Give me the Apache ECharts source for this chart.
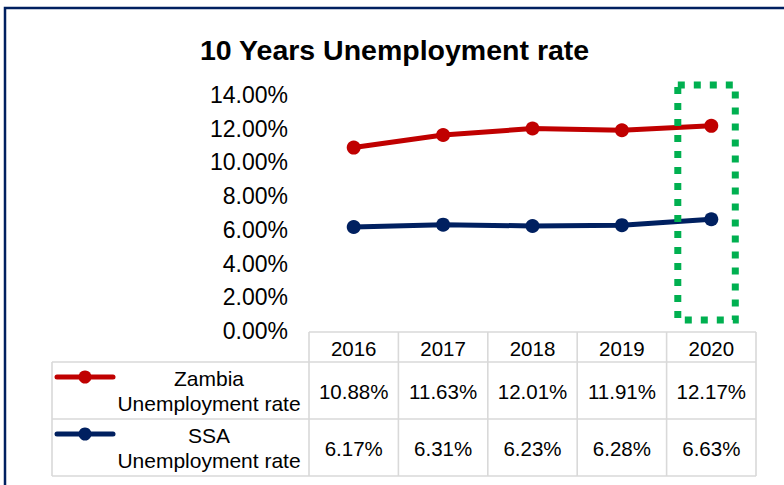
<!DOCTYPE html>
<html>
<head>
<meta charset="utf-8">
<script src="https://cdn.jsdelivr.net/npm/echarts@6/dist/echarts.min.js"></script>
<style>
  html, body { margin: 0; padding: 0; background: #fff; }
  #chart { width: 784px; height: 485px; }
</style>
</head>
<body>
<div id="chart"></div>
<script>
// Unemployment rates (%) by year
const years = ['2016', '2017', '2018', '2019', '2020'];
const zambiaRate = [10.88, 11.63, 12.01, 11.91, 12.17];
const ssaRate = [6.17, 6.31, 6.23, 6.28, 6.63];
const seriesNames = ['Zambia\nUnemployment rate', 'SSA\nUnemployment rate'];
const highlightYear = '2020';

const FONT = '"Liberation Sans", Arial, sans-serif';
const RED = '#C00000';
const NAVY = '#002060';
const CELL = '#D9D9D9';
const GREEN = '#00B050';

const pct = v => v.toFixed(2) + '%';

const chart = echarts.init(document.getElementById('chart'), null, { renderer: 'svg' });

chart.setOption({
  animation: false,
  backgroundColor: '#fff',
  title: {
    text: '10 Years Unemployment rate',
    left: 195,
    top: 30,
    textStyle: { fontFamily: FONT, fontSize: 28.5, fontWeight: 'bold', color: '#000' }
  },
  grid: { left: 309, right: 28, top: 95, bottom: 154 },
  xAxis: {
    type: 'category',
    data: years,
    boundaryGap: true,
    axisLine: { show: false },
    axisTick: { show: false },
    axisLabel: { show: false }
  },
  yAxis: {
    type: 'value',
    min: 0,
    max: 14,
    interval: 2,
    splitLine: { show: false },
    axisLine: { show: false },
    axisTick: { show: false },
    axisLabel: {
      margin: 21,
      fontSize: 23,
      fontFamily: FONT,
      color: '#000',
      formatter: v => pct(v)
    }
  },
  series: [
    {
      name: seriesNames[0],
      type: 'line',
      data: zambiaRate,
      symbol: 'circle',
      symbolSize: 14,
      itemStyle: { color: RED },
      lineStyle: { color: RED, width: 5 },
      z: 3
    },
    {
      name: seriesNames[1],
      type: 'line',
      data: ssaRate,
      symbol: 'circle',
      symbolSize: 14,
      itemStyle: { color: NAVY },
      lineStyle: { color: NAVY, width: 5 },
      z: 3
    }
  ]
});

// Data table under the plot, laid out from the category axis positions
function buildTable() {
  const xs = years.map(y => chart.convertToPixel({ xAxisIndex: 0 }, y));
  const band = xs[1] - xs[0];
  const y0 = chart.convertToPixel({ yAxisIndex: 0 }, 0) + 1;
  const colLeft = xs[0] - band / 2;
  const colRight = xs[xs.length - 1] + band / 2;
  const legendLeft = 52;
  const headerH = 30;
  const rowH = 57;
  const rowTops = [y0 + headerH, y0 + headerH + rowH];
  const bottom = y0 + headerH + 2 * rowH;

  const g = [];
  const line = (x1, y1, x2, y2) => g.push({
    type: 'line', silent: true, z: 10,
    shape: { x1, y1, x2, y2 },
    style: { stroke: CELL, lineWidth: 1.6 }
  });
  const text = (x, y, t, size, align) => g.push({
    type: 'text', silent: true, z: 11,
    x, y,
    style: {
      text: t, fill: '#000', font: size + 'px ' + FONT,
      align: align || 'center', verticalAlign: 'middle', lineHeight: 25
    }
  });

  // outer frame of the chart area
  g.push({
    type: 'rect', silent: true, z: 20,
    shape: { x: 5, y: 8, width: 900, height: 600 },
    style: { fill: 'none', stroke: NAVY, lineWidth: 2.5 }
  });

  // grid lines of the table
  line(colLeft, y0, colRight, y0);
  line(legendLeft, rowTops[0], colRight, rowTops[0]);
  line(legendLeft, rowTops[1], colRight, rowTops[1]);
  line(legendLeft, bottom, colRight, bottom);
  line(legendLeft, rowTops[0], legendLeft, bottom);
  for (let i = 0; i <= xs.length; i++) {
    const x = colLeft + i * band;
    line(x, y0, x, bottom);
  }

  // header: years
  years.forEach((y, i) => text(xs[i], y0 + headerH / 2 + 1, y, 20.5));

  // rows: legend key + values
  const rows = [
    { name: seriesNames[0], values: zambiaRate, color: RED },
    { name: seriesNames[1], values: ssaRate, color: NAVY }
  ];
  rows.forEach((r, k) => {
    const top = rowTops[k];
    const keyY = top + 15;
    g.push({
      type: 'line', silent: true, z: 11,
      shape: { x1: 57, y1: keyY, x2: 113, y2: keyY },
      style: { stroke: r.color, lineWidth: 5, lineCap: 'round' }
    });
    g.push({
      type: 'circle', silent: true, z: 12,
      shape: { cx: 85, cy: keyY, r: 6.5 },
      style: { fill: r.color }
    });
    text(209, top + rowH / 2, r.name, 21);
    r.values.forEach((v, i) => text(xs[i], top + rowH / 2 + 1, pct(v), 20.5));
  });

  // dotted highlight around the latest year
  const hx = chart.convertToPixel({ xAxisIndex: 0 }, highlightYear);
  g.push({
    type: 'rect', silent: true, z: 15,
    shape: { x: hx - 33.5, y: 85, width: 57.5, height: 235 },
    style: { fill: 'none', stroke: GREEN, lineWidth: 7, lineDash: [7, 9] }
  });

  chart.setOption({ graphic: { elements: g } });
}

buildTable();
</script>
</body>
</html>
